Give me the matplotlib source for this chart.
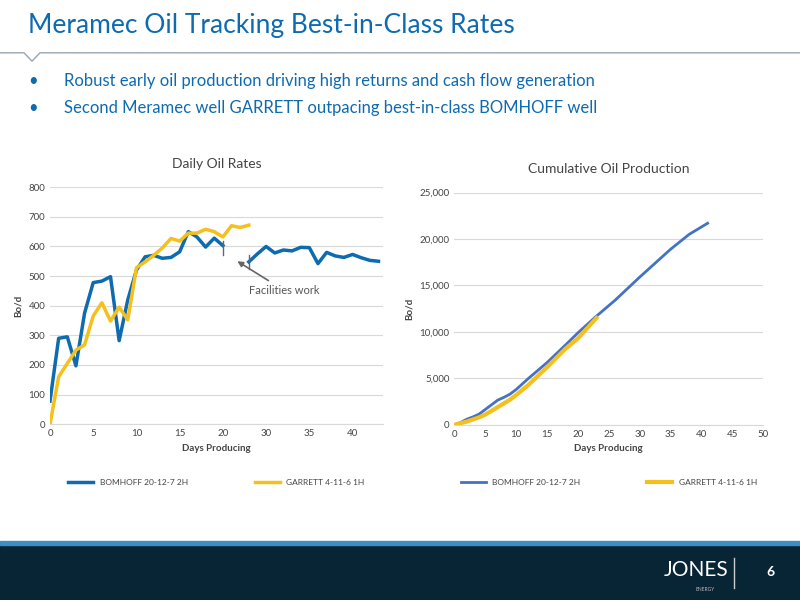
import numpy as np
import matplotlib.pyplot as plt
from matplotlib.patches import Rectangle

plt.rcParams['font.family'] = ['Lato', 'DejaVu Sans']

BLUE = '#0e6bb0'
GOLD = '#f5c01c'
CBLUE = '#4472c4'

# Daily rates (category index; days 21-25 skipped on the axis)
bomhoff_rate = [78, 290, 295, 197, 375, 478, 483, 498, 282, 420, 520, 565, 570, 560, 563,
                582, 650, 632, 598, 628, 603, np.nan, np.nan, 548, 575, 600, 578, 588, 585,
                597, 596, 542, 580, 568, 563, 573, 562, 553, 550]
garrett_rate = [0, 160, 205, 250, 268, 365, 410, 348, 395, 352, 528, 548, 570, 595, 627,
                618, 645, 645, 658, 650, 632, 670, 664, 672]
daily_tick_pos = [0, 5, 10, 15, 20, 25, 30, 35]
daily_tick_lab = ['0', '5', '10', '15', '20', '30', '35', '40']

# Cumulative production
bom_days = [0, 1, 2, 3, 4, 5, 6, 7, 8, 9, 10, 12, 15, 18, 20, 23, 26, 30, 35, 38, 41]
bom_cum = [0, 250, 600, 850, 1150, 1650, 2150, 2650, 2950, 3300, 3800, 5000, 6700, 8600,
           9900, 11700, 13400, 15900, 18900, 20500, 21700]
gar_days = [0, 2, 4, 5, 7, 9, 10, 12, 15, 18, 20, 23]
gar_cum = [0, 350, 800, 1100, 1900, 2700, 3200, 4300, 6200, 8200, 9300, 11500]

fig = plt.figure(figsize=(8, 6), dpi=100)

# header
fig.text(0.035, 0.958, 'Meramec Oil Tracking Best-in-Class Rates', color=BLUE, fontsize=19,
         va='center', ha='left')
fig.add_artist(plt.Line2D([0, 0.03, 0.04, 0.05, 1], [0.912, 0.912, 0.898, 0.912, 0.912],
                          color='#9aa5ae', lw=1, transform=fig.transFigure))
fig.text(0.035, 0.865, '•', color=BLUE, fontsize=12, va='center')
fig.text(0.08, 0.865, 'Robust early oil production driving high returns and cash flow generation',
         color=BLUE, fontsize=12, va='center')
fig.text(0.035, 0.82, '•', color=BLUE, fontsize=12, va='center')
fig.text(0.08, 0.82, 'Second Meramec well GARRETT outpacing best-in-class BOMHOFF well',
         color=BLUE, fontsize=12, va='center')

# footer
fig.add_artist(Rectangle((0, 0), 1, 0.092, color='#082536', transform=fig.transFigure))
fig.add_artist(Rectangle((0, 0.092), 1, 0.006, color='#3b8fc4', transform=fig.transFigure))
fig.text(0.83, 0.05, 'JONES', color='white', fontsize=15, va='center', ha='left')
fig.text(0.87, 0.018, 'ENERGY', color='#bbbbbb', fontsize=3.5, va='center')
fig.add_artist(plt.Line2D([0.918, 0.918], [0.02, 0.07], color='#cccccc', lw=1, transform=fig.transFigure))
fig.text(0.958, 0.047, '6', color='white', fontsize=10, va='center', fontweight='bold')

tick_kw = dict(labelsize=7, colors='#444444', length=0)

# daily chart
ax1 = fig.add_axes([0.0625, 0.293, 0.416, 0.395])
ax1.plot(range(len(bomhoff_rate)), bomhoff_rate, color=BLUE, lw=2.5, label='BOMHOFF 20-12-7 2H')
ax1.plot(range(len(garrett_rate)), garrett_rate, color=GOLD, lw=2.5, label='GARRETT 4-11-6 1H')
ax1.set_xlim(0, 38.5)
ax1.set_ylim(0, 800)
ax1.set_yticks(range(0, 801, 100))
ax1.set_xticks(daily_tick_pos)
ax1.set_xticklabels(daily_tick_lab)
ax1.tick_params(**tick_kw)
ax1.grid(axis='y', color='#d9d9d9', lw=0.8)
ax1.set_axisbelow(True)
for s in ['top', 'right', 'left']:
    ax1.spines[s].set_visible(False)
ax1.spines['bottom'].set_color('#d9d9d9')
ax1.set_title('Daily Oil Rates', fontsize=10, color='#444444', pad=14)
ax1.set_xlabel('Days Producing', fontsize=7, color='#444444', fontweight='bold')
ax1.set_ylabel('Bo/d', fontsize=7, color='#444444', fontweight='bold')
ax1.plot([20, 20], [570, 620], color='#666666', lw=1)
ax1.plot([23, 23], [525, 570], color='#666666', lw=1)
ax1.annotate('Facilities work', xy=(21.4, 555), xytext=(23, 440), fontsize=8, color='#555555',
             arrowprops=dict(arrowstyle='-|>', color='#666666', lw=1.2))
ax1.legend(loc='upper center', bbox_to_anchor=(0.5, -0.2), ncol=2, frameon=False,
           fontsize=6, columnspacing=8, handlelength=3, labelcolor='#444444')

# cumulative chart
ax2 = fig.add_axes([0.568, 0.292, 0.386, 0.387])
ax2.plot(bom_days, bom_cum, color=CBLUE, lw=2, label='BOMHOFF 20-12-7 2H')
ax2.plot(gar_days, gar_cum, color=GOLD, lw=3, label='GARRETT 4-11-6 1H')
ax2.set_xlim(0, 50)
ax2.set_ylim(0, 25000)
ax2.set_xticks(range(0, 51, 5))
ax2.set_yticks(range(0, 25001, 5000))
ax2.set_yticklabels([f'{v:,}' for v in range(0, 25001, 5000)])
ax2.tick_params(**tick_kw)
ax2.grid(axis='y', color='#d9d9d9', lw=0.8)
ax2.set_axisbelow(True)
for s in ['top', 'right', 'left']:
    ax2.spines[s].set_visible(False)
ax2.spines['bottom'].set_color('#d9d9d9')
ax2.set_title('Cumulative Oil Production', fontsize=10, color='#444444', pad=14)
ax2.set_xlabel('Days Producing', fontsize=7, color='#444444', fontweight='bold')
ax2.set_ylabel('Bo/d', fontsize=7, color='#444444', fontweight='bold')
ax2.legend(loc='upper center', bbox_to_anchor=(0.5, -0.2), ncol=2, frameon=False,
           fontsize=6, columnspacing=8, handlelength=3, labelcolor='#444444')

fig.savefig('out.png', dpi=100)
